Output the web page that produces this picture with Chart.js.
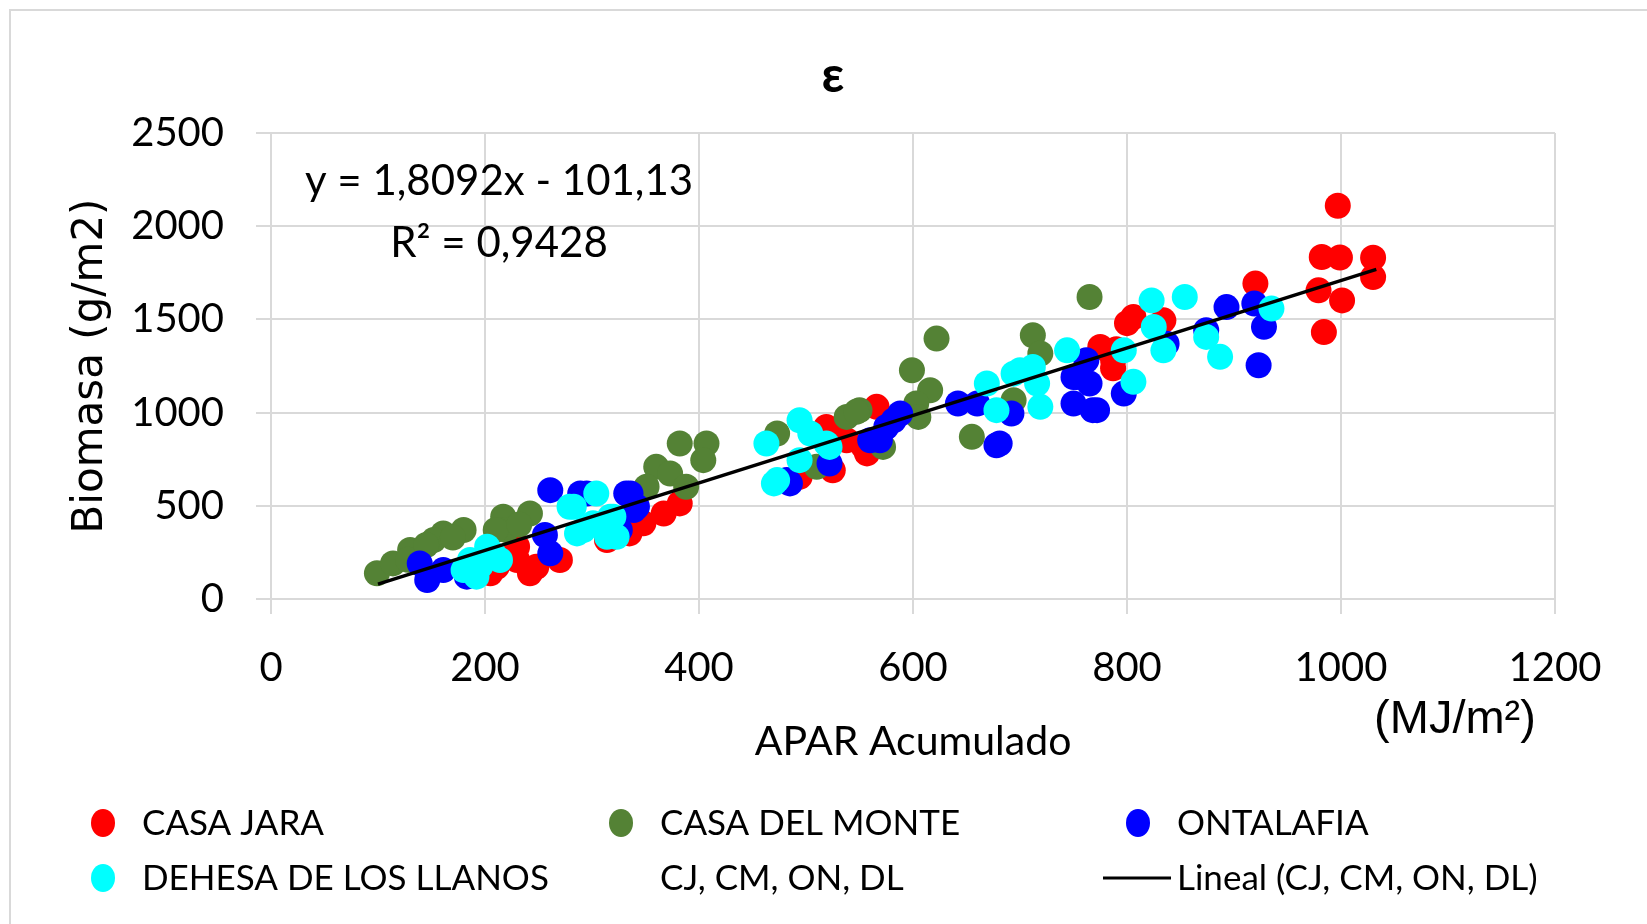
<!DOCTYPE html>
<html>
<head>
<meta charset="utf-8">
<script src="https://cdn.jsdelivr.net/npm/chart.js@4"></script>
<style>
  body { margin: 0; background: #fff; }
  #wrap { position: relative; width: 1647px; height: 924px; }
</style>
</head>
<body>
<div id="wrap"><canvas id="epsilon"></canvas></div>
<script>
// CASA JARA
const casaJaraX = [997, 982, 999, 1030, 1030, 979, 1001, 984, 920, 806, 834, 775, 787, 787, 566, 524, 525, 554, 538, 519, 205, 242, 230, 270, 230, 382, 367, 348, 335, 314, 326, 211, 248, 494, 557, 800, 790];
const casaJaraY = [2110, 1835, 1832, 1831, 1727, 1656, 1602, 1432, 1692, 1513, 1495, 1352, 1281, 1238, 1031, 897, 691, 816, 852, 923, 138, 138, 209, 209, 280, 513, 459, 406, 352, 316, 387, 173, 173, 655, 781, 1480, 1340];
// CASA DEL MONTE
const casaMonteX = [99, 114, 130, 161, 180, 152, 217, 242, 220, 210, 382, 407, 404, 360, 373, 388, 351, 473, 538, 550, 572, 599, 622, 616, 603, 605, 655, 712, 719, 694, 765, 510, 547, 128, 145, 170, 232];
const casaMonteY = [138, 191, 263, 352, 370, 316, 441, 459, 370, 370, 834, 834, 745, 709, 673, 602, 602, 888, 977, 1013, 816, 1227, 1397, 1120, 1049, 977, 870, 1415, 1317, 1066, 1620, 709, 1004, 210, 290, 330, 400];
// ONTALAFIA
const ontalafiaX = [139, 146, 161, 183, 261, 256, 261, 295, 332, 339, 326, 575, 560, 588, 642, 660, 678, 692, 750, 750, 765, 768, 522, 485, 753, 762, 772, 797, 837, 874, 893, 919, 928, 923, 681, 336, 342, 289, 582, 569, 482];
const ontalafiaY = [191, 102, 155, 120, 584, 343, 245, 566, 566, 477, 370, 923, 852, 995, 1049, 1049, 825, 995, 1191, 1049, 1156, 1013, 727, 620, 1191, 1281, 1013, 1102, 1370, 1442, 1566, 1585, 1460, 1254, 834, 566, 495, 566, 959, 852, 638];
// DEHESA DE LOS LLANOS
const dehesaX = [180, 192, 202, 214, 186, 283, 304, 286, 314, 320, 301, 463, 473, 494, 504, 522, 494, 669, 678, 700, 712, 716, 719, 744, 694, 797, 806, 823, 825, 834, 854, 874, 887, 935, 519, 279, 317, 292, 323, 470, 196, 208];
const dehesaY = [155, 120, 280, 209, 209, 495, 566, 352, 334, 441, 406, 834, 638, 959, 888, 816, 745, 1156, 1013, 1227, 1245, 1156, 1031, 1334, 1209, 1334, 1165, 1602, 1459, 1334, 1620, 1406, 1299, 1558, 834, 495, 441, 370, 334, 620, 180, 240];
// Lineal (CJ, CM, ON, DL) endpoints
const trendX = [100, 1033];
const trendY = [80, 1768];

const xTicks = [0, 200, 400, 600, 800, 1000, 1200];
const yTicks = [0, 500, 1000, 1500, 2000, 2500];

const red = '#ff0000', green = '#548235', blue = '#0000ff', cyan = '#00ffff';
const gridGray = '#d9d9d9';

const pts = (xs, ys) => xs.map((x, i) => ({ x: x, y: ys[i] }));

function scatterSet(label, xs, ys, color, order) {
  return {
    label: label,
    data: pts(xs, ys),
    backgroundColor: color,
    borderWidth: 0,
    pointRadius: 13,
    pointHoverRadius: 13,
    order: order
  };
}

// draws title, equation, unit label, legend and outer frame
const overlayPlugin = {
  id: 'overlay',
  beforeDraw(chart) {
    const ctx = chart.ctx;
    ctx.save();
    ctx.fillStyle = '#fff';
    ctx.fillRect(0, 0, chart.width, chart.height);
    ctx.strokeStyle = gridGray;
    ctx.lineWidth = 2;
    ctx.strokeRect(10, 10, chart.width, chart.height);
    ctx.restore();
  },
  afterDraw(chart) {
    const ctx = chart.ctx;
    ctx.save();
    ctx.fillStyle = '#000';
    ctx.textAlign = 'center';
    ctx.textBaseline = 'middle';

    ctx.font = 'bold 50px Lato, "DejaVu Sans"';
    ctx.fillText('ε', 833, 76);

    ctx.font = '42px Lato';
    ctx.fillText('y = 1,8092x - 101,13', 499, 181);
    ctx.fillText('R² = 0,9428', 499, 243);

    ctx.font = '47px "Liberation Sans"';
    ctx.fillText('(MJ/m²)', 1455, 720);

    // legend
    const ds = chart.data.datasets;
    const slots = [
      { ds: 0, x: 103, y: 823 },
      { ds: 1, x: 621, y: 823 },
      { ds: 2, x: 1138, y: 823 },
      { ds: 3, x: 103, y: 878 },
      { ds: 4, x: 621, y: 878 },
      { ds: 5, x: 1138, y: 878 }
    ];
    ctx.font = '35px Lato';
    ctx.textAlign = 'left';
    slots.forEach(s => {
      const d = ds[s.ds];
      if (d.showLine) {
        ctx.strokeStyle = d.borderColor;
        ctx.lineWidth = 3;
        ctx.beginPath();
        ctx.moveTo(s.x - 35, s.y);
        ctx.lineTo(s.x + 33, s.y);
        ctx.stroke();
      } else if (d.data.length) {
        ctx.fillStyle = d.backgroundColor;
        ctx.beginPath();
        ctx.ellipse(s.x, s.y, 12, 14, 0, 0, Math.PI * 2);
        ctx.fill();
      }
      ctx.fillStyle = '#000';
      ctx.fillText(d.label, s.x + 39, s.y + 1);
    });
    ctx.restore();
  }
};

new Chart('epsilon', {
  type: 'scatter',
  data: {
    datasets: [
      scatterSet('CASA JARA', casaJaraX, casaJaraY, red, 5),
      scatterSet('CASA DEL MONTE', casaMonteX, casaMonteY, green, 4),
      scatterSet('ONTALAFIA', ontalafiaX, ontalafiaY, blue, 3),
      scatterSet('DEHESA DE LOS LLANOS', dehesaX, dehesaY, cyan, 2),
      { label: 'CJ, CM, ON, DL', data: [], pointRadius: 0, order: 6 },
      {
        label: 'Lineal (CJ, CM, ON, DL)',
        type: 'line',
        data: pts(trendX, trendY),
        showLine: true,
        borderColor: '#000',
        borderWidth: 3.5,
        pointRadius: 0,
        order: 0
      }
    ]
  },
  options: {
    responsive: true,
    maintainAspectRatio: false,
    animation: false,
    layout: { padding: { left: 0, right: 92, top: 133, bottom: 158 } },
    plugins: {
      legend: { display: false },
      tooltip: { enabled: false }
    },
    scales: {
      x: {
        type: 'linear',
        min: 0,
        max: 1200,
        afterBuildTicks: s => { s.ticks = xTicks.map(v => ({ value: v })); },
        afterFit: s => { s.height = 167; },
        grid: { color: gridGray, lineWidth: 2, tickLength: 15 },
        border: { color: gridGray, width: 2 },
        ticks: {
          color: '#000',
          padding: 30,
          font: { family: 'Lato', size: 40 },
          callback: v => String(v)
        },
        title: {
          display: true,
          text: 'APAR Acumulado',
          color: '#000',
          font: { family: 'Lato', size: 41 },
          padding: { top: 0, bottom: 0 }
        }
      },
      y: {
        type: 'linear',
        min: 0,
        max: 2500,
        afterBuildTicks: s => { s.ticks = yTicks.map(v => ({ value: v })); },
        afterFit: s => { s.width = 271; },
        grid: { color: gridGray, lineWidth: 2, tickLength: 15 },
        border: { color: gridGray, width: 2 },
        ticks: {
          color: '#000',
          padding: 32,
          font: { family: 'Lato', size: 40 },
          callback: v => String(v)
        },
        title: {
          display: true,
          text: 'Biomasa (g/m2)',
          color: '#000',
          font: { family: '"DejaVu Sans"', size: 42 },
          padding: { top: 66, bottom: 0 }
        }
      }
    }
  },
  plugins: [overlayPlugin]
});
</script>
</body>
</html>
